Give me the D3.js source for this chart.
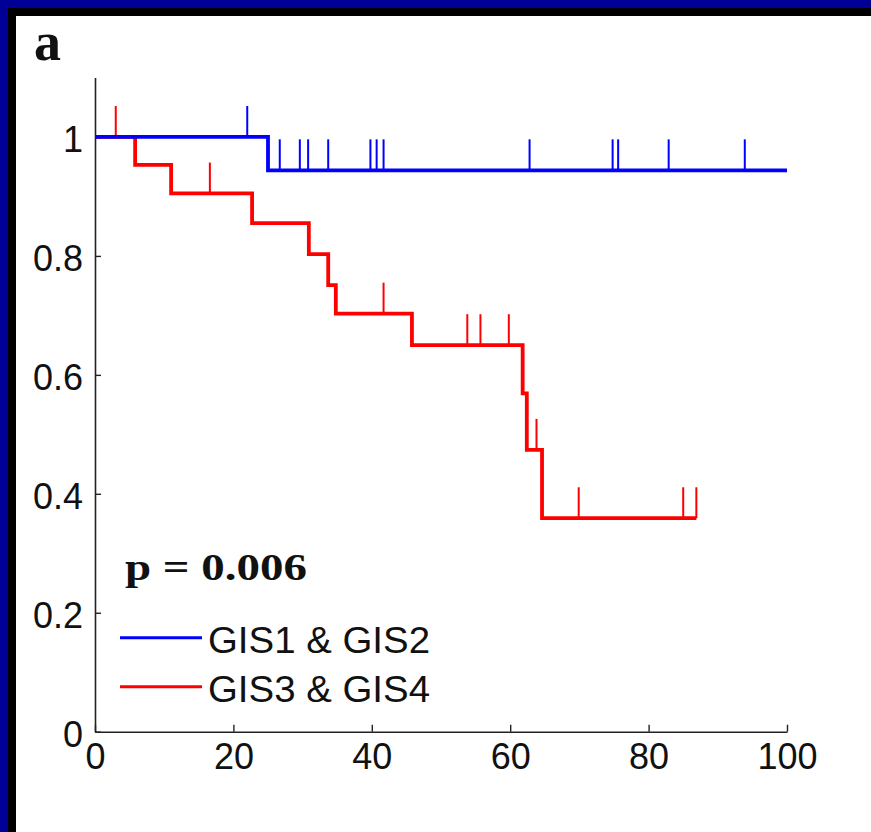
<!DOCTYPE html>
<html>
<head>
<meta charset="utf-8">
<script src="https://cdn.jsdelivr.net/npm/d3@7"></script>
<style>
  html, body { margin: 0; padding: 0; background: #ffffff; overflow: hidden; }
  svg { display: block; }
</style>
</head>
<body>
<script>
// Kaplan–Meier curves: step times and survival levels per group
const blueTimes   = [0, 25];
const blueSurv    = [1, 0.944];
const blueEnd     = 100;
const blueCensor  = [22, 26.7, 29.6, 30.8, 33.7, 39.8, 40.7, 41.7, 62.8, 74.8, 75.6, 82.9, 93.9];

const redTimes    = [0, 5.8, 11, 22.7, 30.9, 33.7, 34.8, 45.8, 61.8, 62.4, 64.6];
const redSurv     = [1, 0.953, 0.905, 0.855, 0.803, 0.751, 0.703, 0.650, 0.569, 0.474, 0.359];
const redEnd      = 86.9;
const redCensor   = [3, 16.6, 41.7, 53.8, 55.7, 59.8, 63.8, 69.9, 85, 86.9];

const seriesNames = ["GIS1 & GIS2", "GIS3 & GIS4"];
const xTicks      = [0, 20, 40, 60, 80, 100];
const xTickLabels = ["0", "20", "40", "60", "80", "100"];
const yTicks      = [0, 0.2, 0.4, 0.6, 0.8, 1];
const yTickLabels = ["0", "0.2", "0.4", "0.6", "0.8", "1"];
const pLabel      = "p = 0.006";
const panelLabel  = "a";

const W = 871, H = 832;
const svg = d3.select("body").append("svg").attr("width", W).attr("height", H);

// white panel with a navy + black band along the top and left edges
svg.append("rect").attr("x", 0).attr("y", 0).attr("width", W).attr("height", H).attr("fill", "#ffffff");
svg.append("rect").attr("x", 0).attr("y", 0).attr("width", W).attr("height", 8).attr("fill", "#000096");
svg.append("rect").attr("x", 0).attr("y", 0).attr("width", 8).attr("height", H).attr("fill", "#000096");
svg.append("rect").attr("x", 8).attr("y", 8).attr("width", W - 8).attr("height", 8).attr("fill", "#000000");
svg.append("rect").attr("x", 8).attr("y", 8).attr("width", 8).attr("height", H - 8).attr("fill", "#000000");

const x = d3.scaleLinear().domain([0, 100]).range([95, 787]);
const y = d3.scaleLinear().domain([0, 1.1]).range([731.7, 77.5]);

// axes (ticks point inward)
const xAxis = d3.axisBottom(x).tickValues(xTicks)
  .tickFormat((d, i) => xTickLabels[i]).tickSizeInner(-7).tickSizeOuter(0).tickPadding(12);
const yAxis = d3.axisLeft(y).tickValues(yTicks)
  .tickFormat((d, i) => yTickLabels[i]).tickSizeInner(-6).tickSizeOuter(0).tickPadding(12);

const gx = svg.append("g").attr("transform", `translate(0,${y(0)})`).call(xAxis);
const gy = svg.append("g").attr("transform", `translate(${x(0)},0)`).call(yAxis);
[gx, gy].forEach(g => {
  g.select(".domain").attr("stroke", "#222").attr("stroke-width", 1.6);
  g.selectAll(".tick line").attr("stroke", "#222").attr("stroke-width", 1.4);
  g.selectAll(".tick text").attr("fill", "#111")
    .style("font-family", "'Liberation Sans', Arial, sans-serif").style("font-size", "36px");
});
gy.selectAll(".tick text").attr("dy", "0.4em");

// survival value of a step function at time t
function survAt(times, surv, t) {
  let s = surv[0];
  for (let i = 0; i < times.length; i++) if (times[i] <= t) s = surv[i];
  return s;
}

const stepLine = d3.line().x(d => x(d[0])).y(d => y(d[1])).curve(d3.curveStepAfter);

function drawGroup(times, surv, end, censor, color) {
  const pts = times.map((t, i) => [t, surv[i]]);
  pts.push([end, surv[surv.length - 1]]);
  svg.append("path").datum(pts).attr("d", stepLine)
    .attr("fill", "none").attr("stroke", color).attr("stroke-width", 3.8);
  svg.append("g").selectAll("line").data(censor).join("line")
    .attr("x1", d => x(d)).attr("x2", d => x(d))
    .attr("y1", d => y(survAt(times, surv, d)))
    .attr("y2", d => y(survAt(times, surv, d) + 0.052))
    .attr("stroke", color).attr("stroke-width", 2);
}

drawGroup(redTimes, redSurv, redEnd, redCensor, "#ff0000");
drawGroup(blueTimes, blueSurv, blueEnd, blueCensor, "#0000ff");

// panel letter
svg.append("text").attr("x", 34).attr("y", 60).text(panelLabel)
  .style("font-family", "'Liberation Serif', 'Times New Roman', serif")
  .style("font-weight", "bold").style("font-size", "54px").attr("fill", "#111");

// p-value
svg.append("text").attr("x", 125).attr("y", 580).text(pLabel)
  .attr("textLength", 182).attr("lengthAdjust", "spacingAndGlyphs")
  .style("font-family", "'Liberation Serif', 'Times New Roman', serif")
  .style("font-weight", "bold").style("font-size", "37px").attr("fill", "#111");

// legend
const legendColors = ["#0000ff", "#ff0000"];
const legendY = [637.7, 686.7];
const lg = svg.append("g");
seriesNames.forEach((name, i) => {
  lg.append("line").attr("x1", 120).attr("x2", 202)
    .attr("y1", legendY[i]).attr("y2", legendY[i])
    .attr("stroke", legendColors[i]).attr("stroke-width", 3);
  lg.append("text").attr("x", 208).attr("y", legendY[i] + 15.5).text(name)
    .attr("textLength", 222).attr("lengthAdjust", "spacingAndGlyphs")
    .style("font-family", "'Liberation Sans', Arial, sans-serif")
    .style("font-size", "36px").attr("fill", "#111");
});
</script>
</body>
</html>
